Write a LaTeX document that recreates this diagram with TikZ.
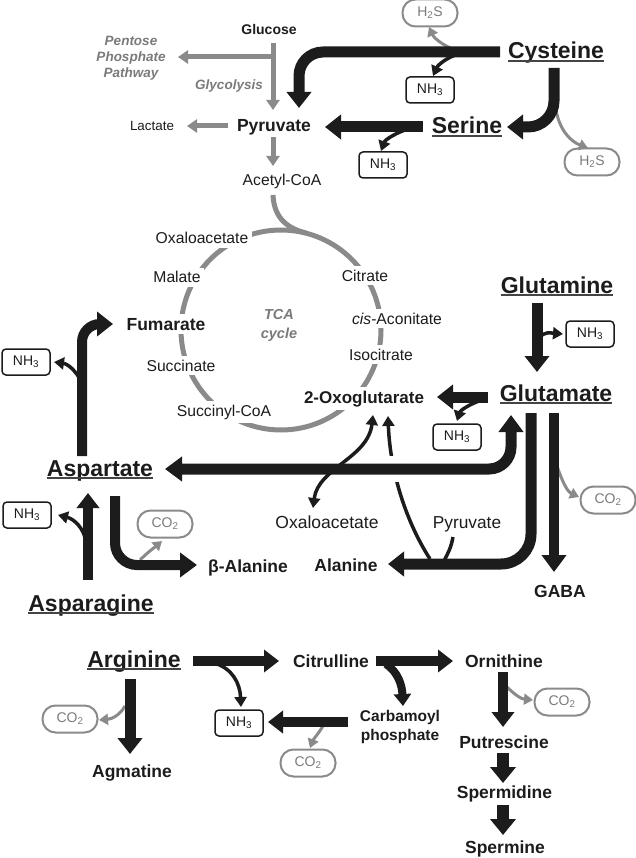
\documentclass[tikz,border=0pt]{standalone}
\usepackage{fontspec}
\setmainfont{Liberation Sans}
\usetikzlibrary{arrows.meta}
\definecolor{bk}{HTML}{1C1C1C}
\definecolor{gr}{HTML}{8A8A8A}
\definecolor{gt}{HTML}{7A7A7A}
\definecolor{ulc}{HTML}{444444}
\newcommand\ulname[1]{\sbox0{#1}\makebox[0pt][l]{\usebox0}\textcolor{ulc}{\rule[-3.2pt]{\wd0}{1.8pt}}}
\begin{document}
\begin{tikzpicture}[x=1pt,y=-1pt,
 amino/.style={anchor=base, inner sep=0pt, font=\fontsize{23}{26}\selectfont\bfseries, text=bk},
 mid/.style={anchor=base, inner sep=1pt, font=\fontsize{17.5}{20}\selectfont\bfseries, text=bk},
 reg/.style={anchor=base, inner sep=1pt, font=\fontsize{15.7}{18}\selectfont, text=bk},
 tca/.style={reg, fill=white, inner sep=3.5pt},
 gital/.style={font=\fontsize{13.5}{16}\selectfont\bfseries\itshape, text=gt, align=center},
 nh/.style={draw=bk, line width=1.5pt, rounded corners=4pt, minimum width=48pt, minimum height=26pt, inner sep=0pt, font=\fontsize{14}{16}\selectfont, text=bk},
 co/.style={draw=gr, line width=2pt, rounded corners=13pt, minimum width=55pt, minimum height=27pt, inner sep=0pt, font=\fontsize{14}{16}\selectfont, text=gt},
 fatarrow/.style={draw=bk, line width=11pt, -{Triangle[width=24pt,length=16pt]}},
 medarrow/.style={draw=bk, line width=8pt, -{Triangle[width=17pt,length=12pt]}},
 narrowarrow/.style={draw=bk, line width=3.5pt, -{Triangle[width=12pt,length=10pt]}},
 grayarrow/.style={draw=gr, line width=3pt, -{Triangle[width=11pt,length=9pt]}},
 graymain/.style={draw=gr, line width=5pt, -{Triangle[width=13pt,length=10pt]}}
]
\useasboundingbox (0,0) rectangle (636,858);

% ---------- TCA cycle ----------
\draw[gr, line width=5pt] (281,330) circle [radius=100pt];
\draw[gr, line width=5pt] (273,195) .. controls (274,217) and (286,228) .. (306,233);
\node[tca] (oaa) at (202,244) {Oxaloacetate};
\node[tca] (mal) at (177,283) {Malate};
\node[tca, font=\fontsize{17.5}{20}\selectfont\bfseries] (fum) at (166,330) {Fumarate};
\node[tca] (suc) at (181,371) {Succinate};
\node[tca] (sucoa) at (224,416) {Succinyl-CoA};
\node[tca] (cit) at (365,281) {Citrate};
\node[tca] (cis) at (397,324) {\textit{cis}-Aconitate};
\node[tca] (iso) at (381,360) {Isocitrate};
\node[tca, font=\fontsize{17}{20}\selectfont\bfseries] (oxo) at (364,403) {2-Oxoglutarate};
\node[gital, font=\fontsize{14.5}{19}\selectfont\bfseries\itshape] (tcac) at (279,325) {TCA\\cycle};

% ---------- top: glycolysis ----------
\node[anchor=base, font=\fontsize{14}{16}\selectfont\bfseries, text=bk] (glc) at (269,35) {Glucose};
\node[gital] (ppp) at (131,58) {Pentose\\Phosphate\\Pathway};
\node[gital, anchor=base] (glyc) at (229,90) {Glycolysis};
\node[mid] (pyr) at (274,132) {Pyruvate};
\node[anchor=base, font=\fontsize{13.4}{16}\selectfont, text=bk] (lac) at (152,131) {Lactate};
\node[reg] (acoa) at (282,186) {Acetyl-CoA};
\draw[graymain] (273,43) -- (273,110);
\draw[graymain] (275,57) -- (178,57);
\draw[graymain] (228,126) -- (187,126);
\draw[graymain] (273,137) -- (273,166);

% ---------- Cysteine / Serine ----------
\node[amino] (cys) at (556,58.5) {\ulname{Cysteine}};
\node[amino] (ser) at (467,134) {\ulname{Serine}};
\node[nh] (nh1) at (430,90) {NH\textsubscript{3}};
\node[nh] (nh2) at (383,165) {NH\textsubscript{3}};
\node[co] (h2s1) at (430,13) {H\textsubscript{2}S};
\node[co] (h2s2) at (592,162) {H\textsubscript{2}S};
\draw[grayarrow] (455,50) .. controls (442,45) and (434,38) .. (429,27);
\draw[fatarrow, rounded corners=24pt] (500,52) -- (299,52) -- (299,108);
\draw[narrowarrow] (458,54) .. controls (446,58) and (438,65) .. (433,76);
\draw[grayarrow] (556,110) .. controls (560,132) and (572,142) .. (588,148);
\draw[fatarrow, rounded corners=26pt] (554,68) -- (554,127) -- (507,127);
\draw[fatarrow] (423,127) -- (325,127);
\draw[narrowarrow] (405,130) .. controls (394,134) and (385,140) .. (381,151);

% ---------- Glutamine / Glutamate ----------
\node[amino] (gln) at (557,293) {\ulname{Glutamine}};
\node[amino] (glu) at (556,401) {\ulname{Glutamate}};
\node[nh] (nh3) at (590,334) {NH\textsubscript{3}};
\node[nh] (nh4) at (457,437) {NH\textsubscript{3}};
\node[co] (co1) at (608,500) {CO\textsubscript{2}};
\draw[fatarrow] (537,303) -- (537,372);
\draw[narrowarrow] (538,338) .. controls (546,331) and (550,333) .. (563,334);
\draw[fatarrow] (488,397) -- (437,397);
\draw[narrowarrow] (479,401) .. controls (468,405) and (460,411) .. (457,421);
\draw[grayarrow] (557,466) .. controls (563,484) and (568,492) .. (579,497);
\draw[draw=bk, line width=10pt, -{Triangle[width=24pt,length=17pt]}] (554,413) -- (554,572);
\node[mid] (gaba) at (560,597) {GABA};

% ---------- Aspartate region ----------
\node[amino] (asp) at (100,476) {\ulname{Aspartate}};
\node[amino] (asn) at (91,611) {\ulname{Asparagine}};
\node[nh] (nh5) at (26,362) {NH\textsubscript{3}};
\node[nh] (nh6) at (27,515) {NH\textsubscript{3}};
\node[co] (co2) at (165,524) {CO\textsubscript{2}};
\node[mid] (bala) at (248,572) {β-Alanine};
\node[mid] (ala) at (346,571) {Alanine};
\node[anchor=base, font=\fontsize{17.5}{20}\selectfont, text=bk] (oaa2) at (327,528) {Oxaloacetate};
\node[anchor=base, font=\fontsize{17.3}{20}\selectfont, text=bk] (pyr2) at (467,528) {Pyruvate};

\draw[draw=bk, line width=10pt, -{Triangle[width=24pt,length=16pt]}, rounded corners=18pt] (82,456) -- (82,324) -- (113,324);
\draw[narrowarrow] (81,381) .. controls (76,371) and (68,364) .. (54,362);
\draw[draw=bk, line width=10pt, -{Triangle[width=22pt,length=15pt]}] (88,580) -- (88,493);
\draw[narrowarrow] (86,542) .. controls (84,528) and (74,519) .. (58,515);
\draw[grayarrow] (140,560) .. controls (148,552) and (155,547) .. (162,541);
\draw[draw=bk, line width=10pt, -{Triangle[width=24pt,length=17pt]}, rounded corners=22pt] (115,496) -- (115,565) -- (197,565);

% alanine / pyruvate / 2-oxoglutarate curves
\draw[narrowarrow] (430,559) .. controls (405,520) and (390,470) .. (388,416);
\draw[bk, line width=3.5pt] (453,537) .. controls (451,548) and (448,553) .. (444,561);
\draw[white, line width=26pt] (380,469) -- (410,469);
\draw[draw=bk, line width=11pt, {Triangle[width=24pt,length=17pt]}-{Triangle[width=24pt,length=17pt]}, rounded corners=22pt] (165,469) -- (511,469) -- (511,415);
\draw[fatarrow, rounded corners=30pt] (531,413) -- (531,564) -- (388,564);
\draw[draw=bk, line width=3.5pt, {Triangle[width=12pt,length=10pt]}-{Triangle[width=12pt,length=10pt]}] (373,415) .. controls (368,458) and (318,468) .. (313,508);

% ---------- Arginine / urea part ----------
\node[amino] (arg) at (134,667) {\ulname{Arginine}};
\node[mid] (agm) at (132,777) {Agmatine};
\node[mid] (citr) at (331,667) {Citrulline};
\node[mid] (orn) at (504,667) {Ornithine};
\node[font=\fontsize{15.5}{19}\selectfont\bfseries, text=bk, align=center] (cp) at (400,727) {Carbamoyl\\phosphate};
\node[mid] (put) at (504,748) {Putrescine};
\node[mid] (spd) at (504.5,798) {Spermidine};
\node[mid] (spm) at (505,853) {Spermine};
\node[nh] (nh7) at (239,723) {NH\textsubscript{3}};
\node[co] (co3) at (70,719) {CO\textsubscript{2}};
\node[co] (co4) at (308,763) {CO\textsubscript{2}};
\node[co] (co5) at (562,702) {CO\textsubscript{2}};

\draw[draw=bk, line width=10.5pt, -{Triangle[width=22pt,length=15pt]}] (193,661) -- (279,661);
\draw[narrowarrow] (214,663) .. controls (232,668) and (240,683) .. (241,707);
\draw[grayarrow] (125,706) .. controls (120,715) and (112,719) .. (99,720);
\draw[draw=bk, line width=11pt, -{Triangle[width=24pt,length=16pt]}] (130,679) -- (130,754);
\draw[draw=bk, line width=10.5pt, -{Triangle[width=22pt,length=15pt]}] (376,661) -- (453,661);
\draw[medarrow] (386,664) .. controls (398,672) and (402,685) .. (403,706);
\draw[grayarrow] (323,726) .. controls (318,734) and (313,740) .. (310,748);
\draw[draw=bk, line width=10pt, -{Triangle[width=22pt,length=15pt]}] (348,722) -- (268,722);
\draw[grayarrow] (507,687) .. controls (516,696) and (522,699) .. (533,700);
\draw[draw=bk, line width=10pt, -{Triangle[width=22pt,length=15pt]}] (503,672) -- (503,727);
\draw[draw=bk, line width=12.5pt, -{Triangle[width=25pt,length=16pt]}] (503,753) -- (503,783);
\draw[draw=bk, line width=12.5pt, -{Triangle[width=25pt,length=16pt]}] (503,805) -- (503,835);
\end{tikzpicture}
\end{document}
